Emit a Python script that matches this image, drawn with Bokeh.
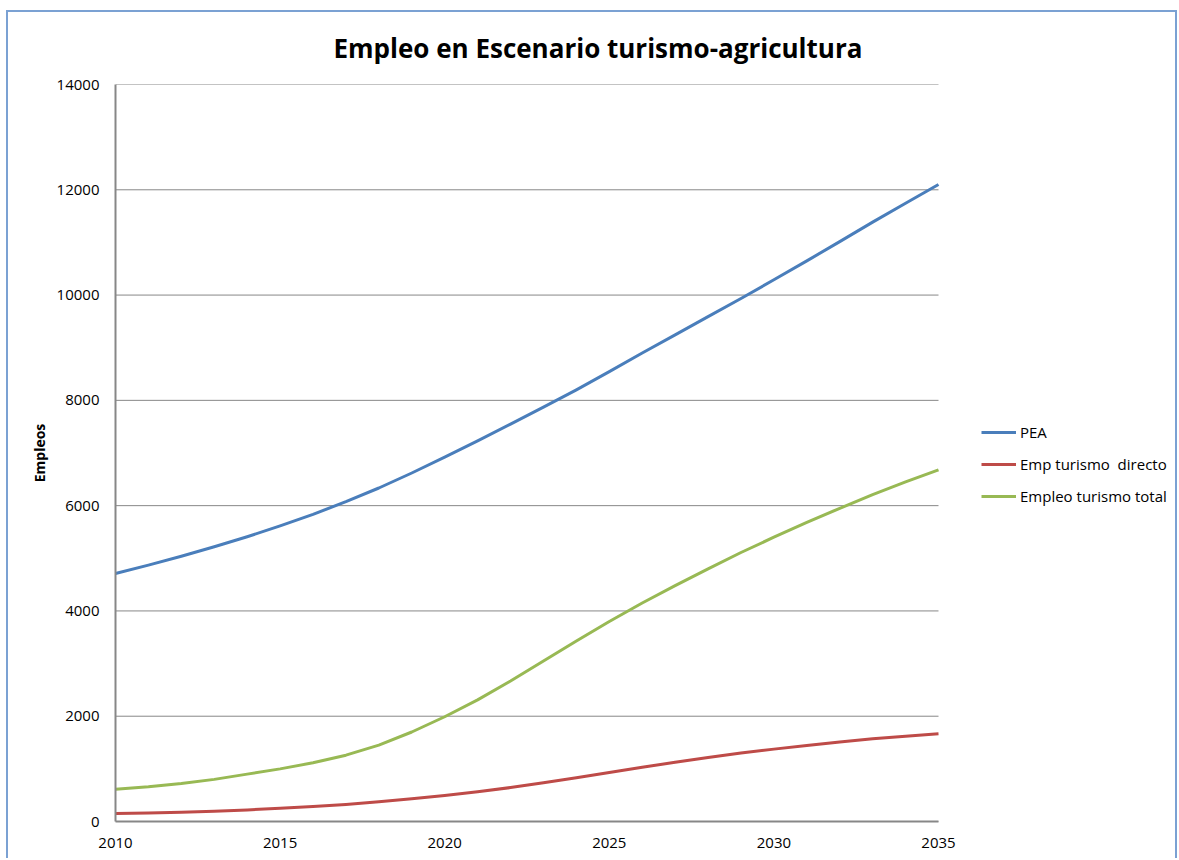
from bokeh.plotting import figure
from bokeh.models import Range1d, Legend, LegendItem, FixedTicker
from bokeh.embed import file_html
from bokeh.resources import INLINE

years = [2010, 2011, 2012, 2013, 2014, 2015, 2016, 2017, 2018, 2019, 2020, 2021, 2022,
         2023, 2024, 2025, 2026, 2027, 2028, 2029, 2030, 2031, 2032, 2033, 2034, 2035]
pea = [4710, 4870, 5040, 5220, 5410, 5615, 5835, 6075, 6335, 6620, 6920, 7230, 7550,
       7870, 8200, 8545, 8900, 9245, 9590, 9935, 10290, 10650, 11015, 11385, 11745, 12100]
emp_directo = [150, 160, 175, 195, 220, 250, 285, 325, 375, 430, 495, 565, 645,
               735, 830, 930, 1030, 1125, 1215, 1300, 1375, 1445, 1510, 1570, 1620, 1666]
emp_total = [614, 660, 720, 800, 900, 1000, 1115, 1260, 1450, 1700, 1990, 2310, 2670,
             3050, 3430, 3800, 4150, 4480, 4800, 5110, 5400, 5680, 5950, 6210, 6450, 6680]

series_names = ["PEA", "Emp turismo  directo", "Empleo turismo total"]
series_colors = ["#4a7ebb", "#be4b48", "#98b954"]
y_ticks = [0, 2000, 4000, 6000, 8000, 10000, 12000, 14000]
x_ticks = [2010, 2015, 2020, 2025, 2030, 2035]
title_text = "Empleo en Escenario turismo-agricultura"
y_title = "Empleos"

FONT = "Open Sans"
GRID = "#878787"
FRAME_BLUE = "#7ba1d3"

# frame extends to the right to host the legend; the data area ends at 2035
x_start, x_end = x_ticks[0], x_ticks[-1]
x_view_end = x_start + (x_end - x_start) * 1052 / 823

p = figure(width=1171, height=848, output_backend="svg", toolbar_location=None,
           x_range=Range1d(x_start, x_view_end), y_range=Range1d(y_ticks[0], y_ticks[-1]),
           min_border_left=107, min_border_right=12, min_border_top=72, min_border_bottom=39)
p.styles = {"margin-left": "6px", "margin-top": "10px",
            "border-left": f"2px solid {FRAME_BLUE}", "border-top": f"2px solid {FRAME_BLUE}",
            "border-right": f"2px solid {FRAME_BLUE}"}
p.outline_line_color = None
p.background_fill_color = "white"
p.border_fill_alpha = 0

# horizontal gridlines limited to the data area
p.segment(x0=[x_start] * len(y_ticks), x1=[x_end] * len(y_ticks), y0=y_ticks, y1=y_ticks,
          line_color=GRID, line_width=1, level="underlay")

renderers = []
for vals, c in zip([pea, emp_directo, emp_total], series_colors):
    r = p.line(years, vals, line_color=c, line_width=3, line_join="round")
    renderers.append(r)

p.xaxis.ticker = FixedTicker(ticks=x_ticks)
p.yaxis.ticker = FixedTicker(ticks=y_ticks)
p.xaxis.bounds = (x_start, x_end)
p.xgrid.grid_line_color = None
p.ygrid.grid_line_color = None

for ax in (p.xaxis[0], p.yaxis[0]):
    ax.axis_line_color = GRID
    ax.axis_line_width = 2
    ax.major_tick_line_color = None
    ax.minor_tick_line_color = None
    ax.major_tick_out = 0
    ax.major_tick_in = 0
    ax.major_label_text_font = FONT
    ax.major_label_text_font_size = "15px"
    ax.major_label_text_color = "black"

p.yaxis.major_label_standoff = 16
p.xaxis.major_label_standoff = 16
p.yaxis.axis_label = y_title
p.yaxis.axis_label_text_font = FONT
p.yaxis.axis_label_text_font_style = "bold"
p.yaxis.axis_label_text_font_size = "14px"
p.yaxis.axis_label_text_color = "black"
p.yaxis.axis_label_standoff = 5

legend = Legend(items=[LegendItem(label=n, renderers=[r]) for n, r in zip(series_names, renderers)],
                location=(866, 315), padding=0, spacing=12, glyph_width=35, glyph_height=20,
                label_height=20, label_standoff=4, border_line_alpha=0,
                background_fill_alpha=0, label_text_font=FONT, label_text_font_size="15px",
                label_text_color="black")
p.add_layout(legend)

p.title.text = title_text
p.title.align = "left"
p.title.offset = 218
p.title.vertical_align = "top"
p.title.standoff = 34
p.title.text_font = FONT
p.title.text_font_style = "bold"
p.title.text_font_size = "26px"
p.title.text_color = "black"

open("out.html", "w").write(file_html(p, INLINE))
